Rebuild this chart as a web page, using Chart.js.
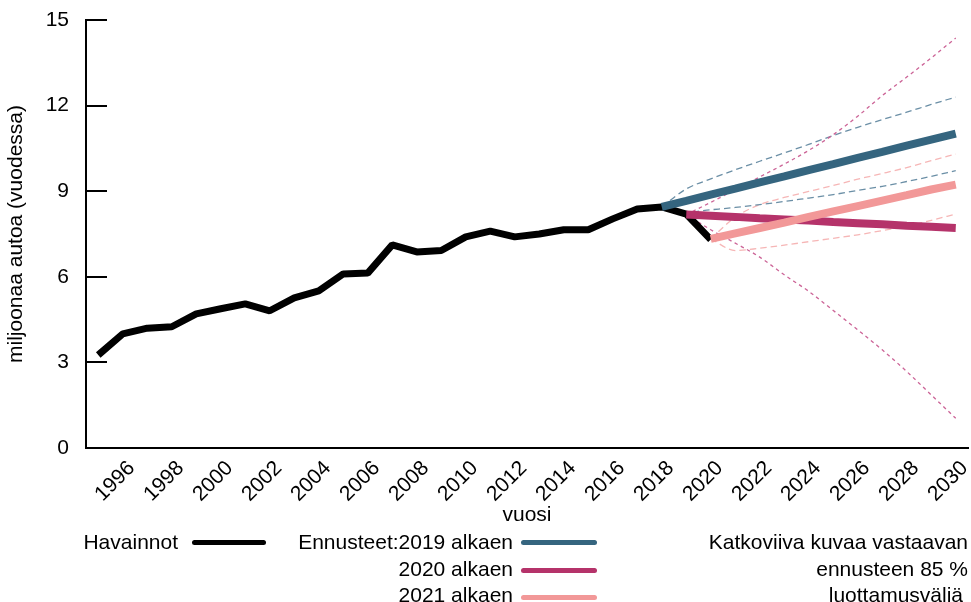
<!DOCTYPE html>
<html>
<head>
<meta charset="utf-8">
<script src="https://cdn.jsdelivr.net/npm/chart.js@4.4.0/dist/chart.umd.min.js"></script>
<style>
  body { margin: 0; background: #fff; }
  #wrap { position: relative; width: 971px; height: 602px; font-family: "Liberation Sans", Arial, sans-serif; font-size: 21px; color: #000; }
  .txt { position: absolute; line-height: 24px; white-space: nowrap; }
  .sw { position: absolute; height: 5px; border-radius: 3px; }
</style>
</head>
<body>
<div id="wrap">
  <canvas id="myChart" width="971" height="602"></canvas>
  <div class="txt" style="right:793px; top:530px;">Havainnot</div>
  <div class="sw" style="left:192px; width:74px; top:540px; background:#000;"></div>
  <div class="txt" style="right:458px; top:530px;">Ennusteet:2019 alkaen</div>
  <div class="sw" style="left:521px; width:76px; top:540px; background:#35657f;"></div>
  <div class="txt" style="right:458px; top:557px;">2020 alkaen</div>
  <div class="sw" style="left:521px; width:76px; top:568px; background:#b5336a;"></div>
  <div class="txt" style="right:458px; top:583px;">2021 alkaen</div>
  <div class="sw" style="left:521px; width:76px; top:595px; background:#f29898;"></div>
  <div class="txt" style="right:3px; top:530px;">Katkoviiva kuvaa vastaavan</div>
  <div class="txt" style="right:3px; top:557px;">ennusteen 85 %</div>
  <div class="txt" style="right:8px; top:583px;">luottamusväliä</div>
</div>
<script>
// vuodet 1995-2030
const years = [];
for (let y = 1995; y <= 2030; y++) years.push(String(y));

// havainnot 1995-2020
const observed = [3.26, 4.0, 4.2, 4.25, 4.7, 4.88, 5.05, 4.81, 5.26, 5.51, 6.1, 6.13, 7.12,
  6.87, 6.92, 7.4, 7.6, 7.4, 7.5, 7.65, 7.65, 8.03, 8.38, 8.45, 8.2, 7.3];

// ennuste 2019 alkaen (2018-2030)
const fc2019 = [8.45, 8.66, 8.88, 9.09, 9.31, 9.52, 9.74, 9.95, 10.17, 10.38, 10.6, 10.81, 11.02];
const fc2019Hi = [8.45, 9.08, 9.43, 9.75, 10.05, 10.34, 10.64, 10.95, 11.24, 11.51, 11.77, 12.04, 12.3];
const fc2019Lo = [8.45, 8.27, 8.35, 8.43, 8.53, 8.64, 8.76, 8.88, 9.03, 9.17, 9.34, 9.52, 9.72];

// ennuste 2020 alkaen (2019-2030)
const fc2020 = [8.18, 8.14, 8.1, 8.05, 8.01, 7.97, 7.92, 7.88, 7.84, 7.79, 7.75, 7.71];
const fc2020Hi = [8.18, 8.61, 9.05, 9.5, 9.95, 10.43, 10.98, 11.63, 12.35, 13.0, 13.67, 14.37];
const fc2020Lo = [8.18, 7.65, 7.18, 6.69, 6.07, 5.49, 4.82, 4.14, 3.44, 2.68, 1.86, 1.04];

// ennuste 2021 alkaen (2020-2030)
const fc2021 = [7.33, 7.52, 7.71, 7.9, 8.1, 8.29, 8.48, 8.67, 8.86, 9.06, 9.23];
const fc2021Hi = [7.33, 8.09, 8.53, 8.78, 8.99, 9.2, 9.42, 9.62, 9.83, 10.07, 10.3];
const fc2021Lo = [7.33, 6.92, 7.0, 7.11, 7.23, 7.35, 7.47, 7.62, 7.77, 7.98, 8.2];

const yTicks = [0, 3, 6, 9, 12, 15];

function place(startYear, vals) {
  const out = years.map(() => null);
  const i0 = years.indexOf(String(startYear));
  vals.forEach((v, i) => { out[i0 + i] = v; });
  return out;
}

function solid(data, color, width, order) {
  return { data: data, borderColor: color, borderWidth: width, pointRadius: 0,
    tension: 0, fill: false, order: order, borderCapStyle: 'butt', borderJoinStyle: 'bevel' };
}
function dashed(data, color, dash, order) {
  return { data: data, borderColor: color, borderWidth: 1.3, borderDash: dash, pointRadius: 0,
    tension: 0.4, cubicInterpolationMode: 'monotone', fill: false, order: order };
}

// sisäänpäin osoittavat y-akselin väliviivat
const innerTicks = {
  id: 'innerTicks',
  afterDraw(chart) {
    const ys = chart.scales.y;
    const ctx = chart.ctx;
    ctx.save();
    ctx.strokeStyle = '#000';
    ctx.lineWidth = 2;
    yTicks.forEach(v => {
      const py = Math.round(ys.getPixelForValue(v));
      ctx.beginPath();
      ctx.moveTo(ys.right, py);
      ctx.lineTo(ys.right + 21, py);
      ctx.stroke();
    });
    ctx.restore();
  }
};

const ctx = document.getElementById('myChart').getContext('2d');
const chart = new Chart(ctx, {
  type: 'line',
  data: {
    labels: years,
    datasets: [
      solid(place(2020, fc2021), '#f29898', 8, 1),
      solid(place(2019, fc2020), '#b5336a', 8, 2),
      solid(place(2018, fc2019), '#35657f', 8, 3),
      solid(place(1995, observed), '#000000', 7, 4),
      dashed(place(2019, fc2020Hi), '#cc6497', [3.5, 3.5], 5),
      dashed(place(2019, fc2020Lo), '#cc6497', [3.5, 3.5], 6),
      dashed(place(2018, fc2019Hi), '#6b8fa6', [6.5, 4], 7),
      dashed(place(2018, fc2019Lo), '#6b8fa6', [6.5, 4], 8),
      dashed(place(2020, fc2021Hi), '#f6b6b6', [6.5, 4], 9),
      dashed(place(2020, fc2021Lo), '#f6b6b6', [6.5, 4], 10)
    ]
  },
  options: {
    responsive: false,
    animation: false,
    layout: { padding: { top: 20, right: 3, bottom: 70, left: 0 } },
    plugins: { legend: { display: false }, tooltip: { enabled: false } },
    scales: {
      x: {
        type: 'category',
        offset: true,
        grid: { display: false, drawTicks: false },
        border: { display: true, color: '#000', width: 2 },
        ticks: {
          autoSkip: false, maxRotation: 45, minRotation: 45, padding: 8, labelOffset: 9,
          color: '#000', font: { family: 'Liberation Sans', size: 21 },
          callback: function(val, i) { const y = +years[i]; return y % 2 === 0 ? String(y) : ''; }
        },
        title: { display: true, text: 'vuosi', color: '#000', font: { family: 'Liberation Sans', size: 21 } },
        afterFit: function(scale) { scale.height = 84; scale.paddingLeft = 0; scale.paddingRight = 0; }
      },
      y: {
        min: 0, max: 15,
        grid: { display: false, drawTicks: false },
        border: { display: true, color: '#000', width: 2 },
        afterBuildTicks: function(scale) { scale.ticks = yTicks.map(v => ({ value: v })); },
        ticks: { padding: 17, color: '#000', font: { family: 'Liberation Sans', size: 21 } },
        title: { display: true, text: 'miljoonaa autoa (vuodessa)', color: '#000', font: { family: 'Liberation Sans', size: 21 } },
        afterFit: function(scale) { scale.width = 86; scale.paddingTop = 0; scale.paddingBottom = 0; }
      }
    }
  },
  plugins: [innerTicks]
});
</script>
</body>
</html>
